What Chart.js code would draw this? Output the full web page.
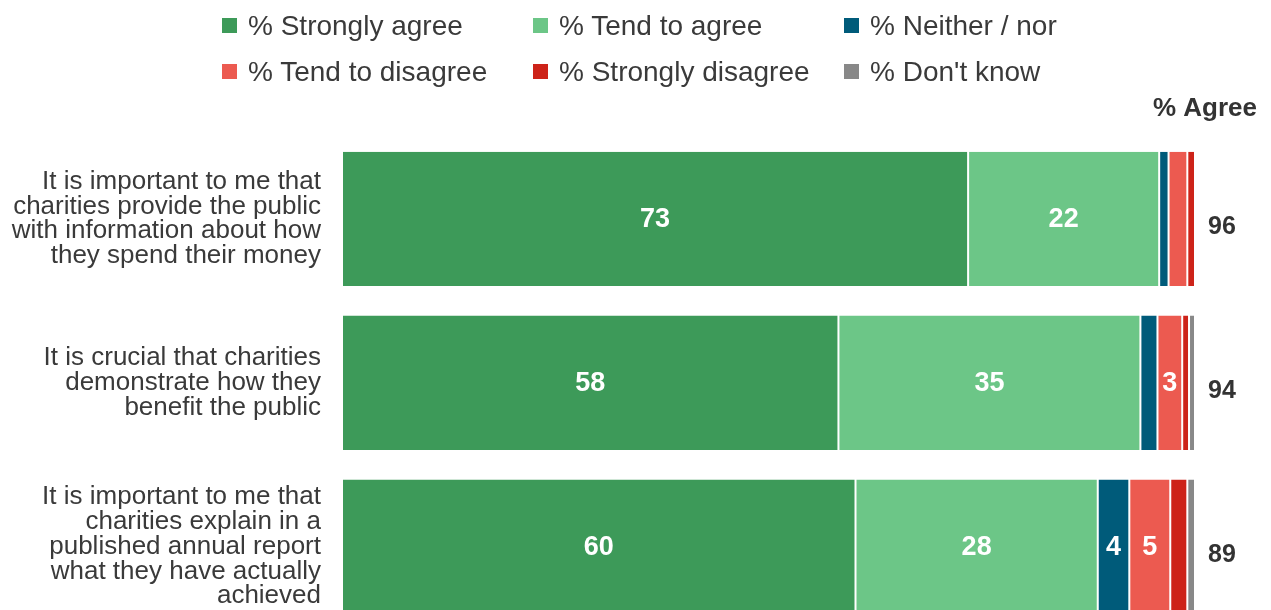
<!DOCTYPE html>
<html>
<head>
<meta charset="utf-8">
<script src="https://cdn.jsdelivr.net/npm/chart.js@4.4.1/dist/chart.umd.min.js"></script>
<style>
  html, body { margin: 0; padding: 0; background: #fff; overflow: hidden; }
  #wrap { position: relative; width: 1271px; height: 691px; }
  #chart { position: absolute; left: 0; top: 0; }
  #legend {
    position: absolute; left: 222px; top: 3px; z-index: 1;
    display: grid; grid-template-columns: repeat(3, 311px);
    font-family: "Liberation Sans", Arial, sans-serif; font-size: 28px; color: #3a3a3a;
  }
  .item { height: 46px; line-height: 46px; white-space: nowrap; }
  .box { display: inline-block; width: 15px; height: 15px; margin-right: 11px; vertical-align: middle; position: relative; top: -2px; }
</style>
</head>
<body>
<div id="wrap">
  <canvas id="chart" width="1271" height="691"></canvas>
  <div id="legend"></div>
</div>
<script>
// Aussagen (mehrzeilig) und Anteile je Antwortkategorie in %
const categories = [
  ['It is important to me that', 'charities provide the public', 'with information about how', 'they spend their money'],
  ['It is crucial that charities', 'demonstrate how they', 'benefit the public'],
  ['It is important to me that', 'charities explain in a', 'published annual report', 'what they have actually', 'achieved']
];
const seriesNames = ['% Strongly agree', '% Tend to agree', '% Neither / nor', '% Tend to disagree', '% Strongly disagree', "% Don't know"];
const stronglyAgree = [73.4, 58.2, 60.2];
const tendToAgree = [22.4, 35.4, 28.4];
const neitherNor = [1.1, 2.0, 3.7];
const tendToDisagree = [2.2, 2.9, 4.8];
const stronglyDisagree = [0.9, 0.8, 2.0];
const dontKnow = [0, 0.7, 0.9];
const colors = ['#3d9a59', '#6cc687', '#005b7a', '#ec5a50', '#cd2319', '#888888'];

const seriesData = [stronglyAgree, tendToAgree, neitherNor, tendToDisagree, stronglyDisagree, dontKnow];
const FONT = '"Liberation Sans", Arial, sans-serif';

// Legende als Raster (3 Spalten x 2 Zeilen)
const legend = document.getElementById('legend');
seriesNames.forEach((name, i) => {
  const item = document.createElement('div');
  item.className = 'item';
  item.innerHTML = '<span class="box" style="background:' + colors[i] + '"></span>' + name;
  legend.appendChild(item);
});

// Zahlen in den Balken und Spalte "% Agree" rechts daneben
const barLabels = {
  id: 'barLabels',
  afterDatasetsDraw(chart) {
    const ctx = chart.ctx;
    const area = chart.chartArea;
    ctx.save();
    ctx.textBaseline = 'middle';
    ctx.textAlign = 'center';
    ctx.fillStyle = '#ffffff';
    ctx.font = 'bold 27px ' + FONT;
    chart.data.datasets.forEach((ds, i) => {
      chart.getDatasetMeta(i).data.forEach((bar, j) => {
        const v = Math.round(ds.data[j]);
        if (v < 3) return;
        const c = bar.getCenterPoint();
        ctx.fillText(String(v), c.x, c.y + 1);
      });
    });

    ctx.fillStyle = '#333333';
    ctx.font = 'bold 26px ' + FONT;
    ctx.textAlign = 'right';
    ctx.fillText('% Agree', chart.width - 14, area.top - 28);

    ctx.textAlign = 'left';
    ctx.font = 'bold 25px ' + FONT;
    categories.forEach((c, j) => {
      const total = Math.round(stronglyAgree[j] + tendToAgree[j]);
      ctx.fillText(String(total), area.right + 13, chart.scales.y.getPixelForValue(j) + 8);
    });
    ctx.restore();
  }
};

new Chart(document.getElementById('chart'), {
  type: 'bar',
  data: {
    labels: categories,
    datasets: seriesNames.map((name, i) => ({
      label: name,
      data: seriesData[i],
      backgroundColor: colors[i],
      borderColor: '#ffffff',
      borderWidth: { left: 1, right: 1, top: 0, bottom: 0 },
      borderSkipped: false,
      categoryPercentage: 1,
      barPercentage: 0.82
    }))
  },
  options: {
    indexAxis: 'y',
    responsive: false,
    animation: false,
    layout: { padding: { top: 137, bottom: 12, right: 76, left: 0 } },
    plugins: {
      legend: { display: false },
      tooltip: { enabled: false }
    },
    scales: {
      x: { stacked: true, min: 0, max: 100, display: false },
      y: {
        stacked: true,
        grid: { display: false },
        border: { display: false },
        ticks: {
          color: '#3a3a3a',
          padding: 13,
          font: { family: FONT, size: 26, lineHeight: '24.7px' }
        },
        afterFit(scale) { scale.width = 342; }
      }
    }
  },
  plugins: [barLabels]
});
</script>
</body>
</html>
